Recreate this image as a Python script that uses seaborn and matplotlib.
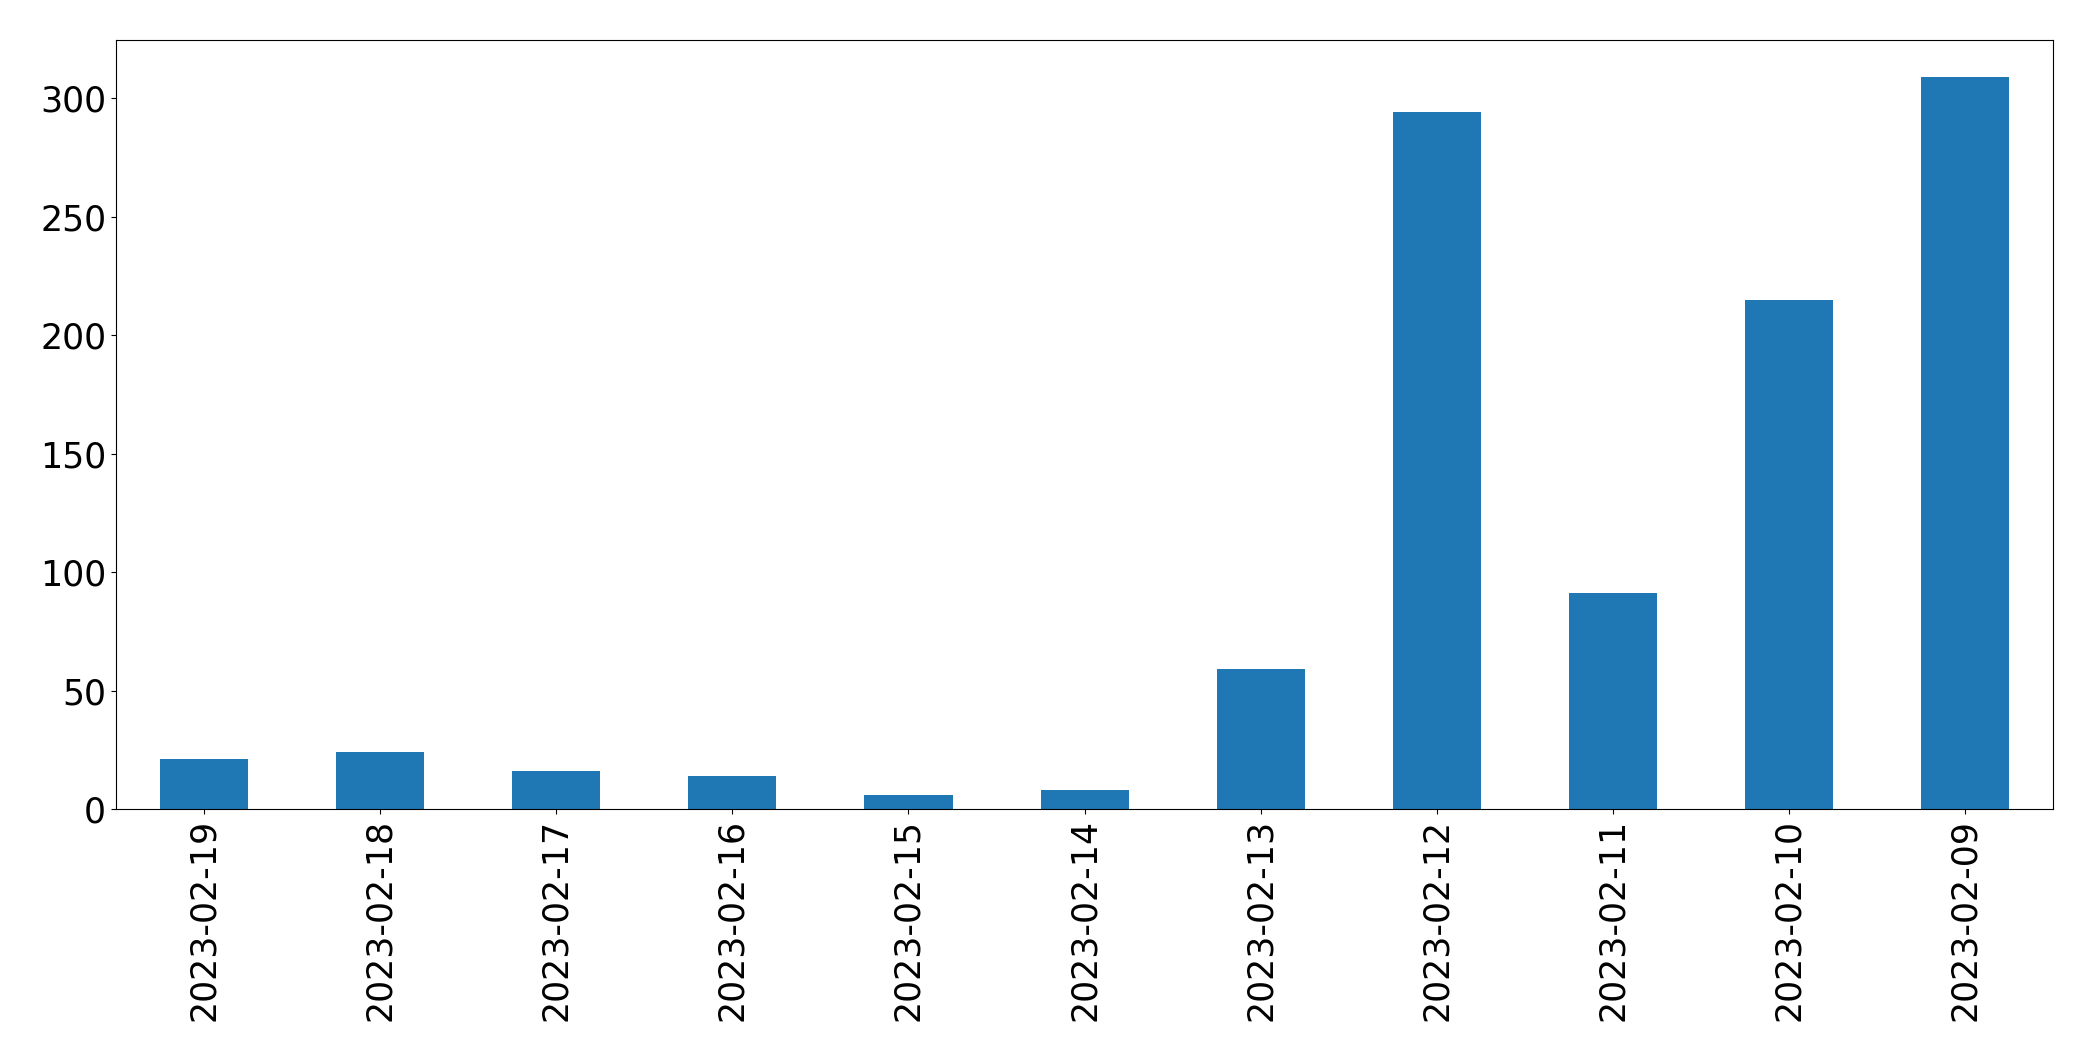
import matplotlib
matplotlib.use('Agg')
import matplotlib.pyplot as plt
import seaborn as sns
import pandas as pd

dates = ['2023-02-19', '2023-02-18', '2023-02-17', '2023-02-16', '2023-02-15',
         '2023-02-14', '2023-02-13', '2023-02-12', '2023-02-11', '2023-02-10',
         '2023-02-09']
counts = [21, 24, 16, 14, 6, 8, 59, 294, 91, 215, 309]

df = pd.DataFrame({'date': dates, 'count': counts})

fig, ax = plt.subplots(figsize=(20.93, 10.61), dpi=100)
fig.subplots_adjust(left=0.0554, right=0.981, top=0.962, bottom=0.2375)

sns.barplot(data=df, x='date', y='count', order=dates, color='#1f77b4',
            saturation=1, width=0.5, ax=ax)

ax.set_xlim(-0.5, len(dates) - 0.5)
ax.set_ylim(0, max(counts) * 1.05)
ax.set_xlabel('')
ax.set_ylabel('')
ax.tick_params(axis='x', labelrotation=90, labelsize=25)
ax.tick_params(axis='y', labelsize=25)
for s in ax.spines.values():
    s.set_color('black')

fig.savefig('out.png', dpi=100)
